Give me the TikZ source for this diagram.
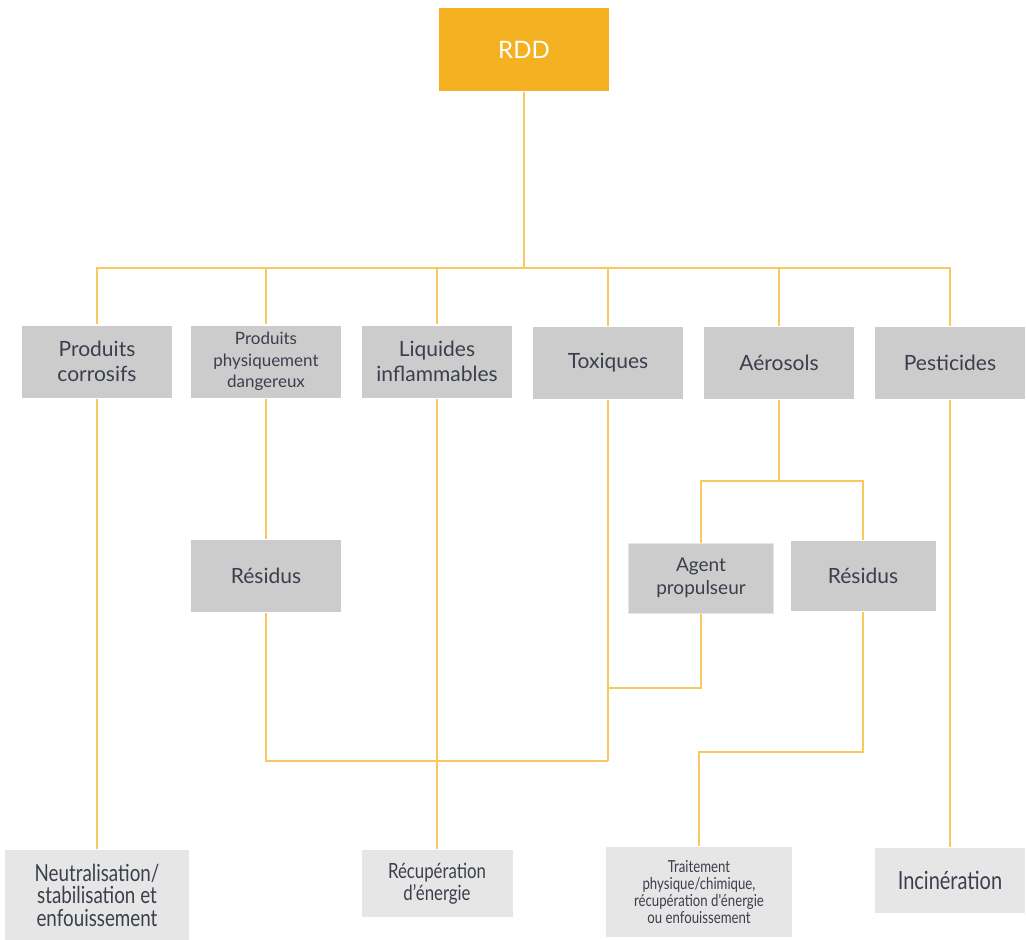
\documentclass[tikz,border=0pt]{standalone}
\usepackage{fontspec}
\setmainfont{Lato}
\newfontfamily\narrowfont[FakeStretch=0.8]{Lato}
\definecolor{rddorange}{HTML}{F4B223}
\definecolor{linkyellow}{HTML}{F8C95E}
\definecolor{boxgray}{HTML}{CCCCCC}
\definecolor{endgray}{HTML}{E6E6E6}
\definecolor{txtgray}{HTML}{3B3F4C}

\begin{document}
\begin{tikzpicture}[x=1pt, y=-1pt, line width=2.6pt]
\useasboundingbox (0,0) rectangle (1026,940);

   \begin{scope}[every node/.style={rectangle,inner sep=0pt,align=center,text=txtgray,fill=boxgray,minimum width=150pt,minimum height=72pt,font=\fontsize{21}{25}\selectfont}]
    \node[fill=rddorange,text=white,minimum width=170pt,minimum height=83pt,font=\fontsize{24}{28}\selectfont] (rdd) at (524,49.5) {RDD};
    \node (corr) at (97,361.5) {Produits\\corrosifs};
    \node[font=\fontsize{17}{21.5}\selectfont] (phys) at (266,361.5) {Produits\\physiquement\\dangereux};
    \node (liq) at (437,361.5) {Liquides\\inflammables};
    \node (tox) at (608,363) {Toxiques};
    \node (aer) at (779,363) {Aérosols};
    \node (pest) at (950,363) {Pesticides};
    \node (resl) at (266,576) {Résidus};
    \node[draw=endgray,line width=1pt,minimum width=145pt,minimum height=70pt,font=\fontsize{19}{23}\selectfont] (agent) at (701,578) {Agent\\propulseur};
    \node[minimum width=145pt,minimum height=70pt] (resr) at (863,576) {Résidus};
   \end{scope}
   \begin{scope}[every node/.style={rectangle,inner sep=0pt,align=center,text=txtgray,fill=endgray,font=\narrowfont\fontsize{23.5}{22.5}\selectfont}]
    \node[minimum width=184pt,minimum height=90pt] (neut) at (97,895) {Neutralisation/\\stabilisation et\\enfouissement};
    \node[minimum width=151pt,minimum height=67pt,font=\narrowfont\fontsize{21}{22}\selectfont] (recup) at (437,883.5) {Récupération\\d’énergie};
    \node[minimum width=186pt,minimum height=90pt,font=\narrowfont\fontsize{16.5}{17.3}\selectfont] (trait) at (699,892) {Traitement\\physique/chimique,\\récupération d'énergie\\ou enfouissement};
    \node[minimum width=150pt,minimum height=65pt,font=\narrowfont\fontsize{25}{26}\selectfont] (incin) at (950,880.5) {Incinération};
   \end{scope}

\coordinate (bus) at (rdd.south |- 0,268);
\coordinate (split) at (aer.south |- 0,481);
\coordinate (tj) at (tox.south |- 0,688);
\coordinate (tm) at (tox.south |- 0,761);
\coordinate (rj) at (resr.south |- 0,752);

\begin{scope}[draw=linkyellow]
\draw (rdd.south) -- (bus);
\draw (bus) -| (corr.north);
\draw (bus) -| (phys.north);
\draw (bus) -| (liq.north);
\draw (bus) -| (tox.north);
\draw (bus) -| (aer.north);
\draw (bus) -| (pest.north);
\draw (phys.south) -- (resl.north);
\draw (aer.south) -- (split);
\draw (split) -| (agent.north);
\draw (split) -| (resr.north);
\draw (agent.south) |- (tj);
\draw (tox.south) -- (tm);
\draw (resl.south) |- (tm);
\draw (resr.south) -- (rj) -| (trait.north);
\draw (corr.south) -- (neut.north);
\draw (liq.south) -- (recup.north);
\draw (pest.south) -- (incin.north);
\end{scope}
\end{tikzpicture}
\end{document}
